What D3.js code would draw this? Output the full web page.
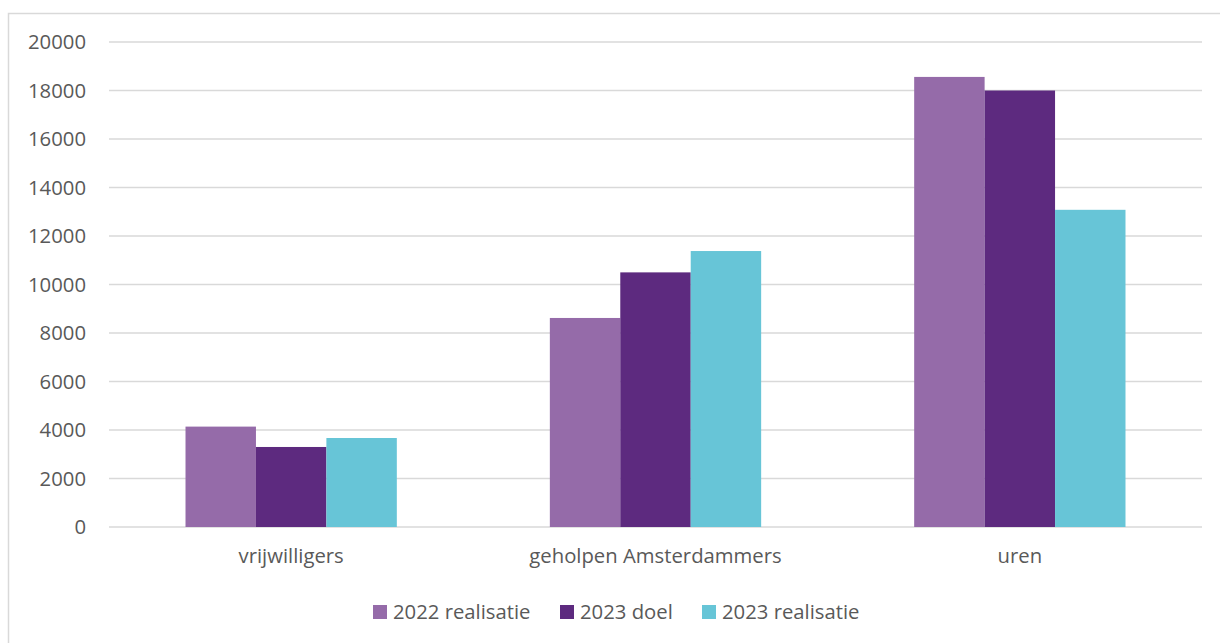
<!DOCTYPE html>
<html><head><meta charset="utf-8">
<script src="https://cdn.jsdelivr.net/npm/d3@7"></script>
<style>body{margin:0;background:#fff}svg{display:block}</style>
</head><body><svg id="c" width="1220" height="643"></svg>
<script>
const categories = ["vrijwilligers", "geholpen Amsterdammers", "uren"];
const seriesNames = ["2022 realisatie", "2023 doel", "2023 realisatie"];
const s2022 = [4140, 8620, 18560];
const s2023doel = [3300, 10500, 18000];
const s2023real = [3670, 11380, 13080];
const yTicks = [0, 2000, 4000, 6000, 8000, 10000, 12000, 14000, 16000, 18000, 20000];
const colors = ["#956BA9", "#5D2A7F", "#67C5D7"];

(function () {
const series = [s2022, s2023doel, s2023real];
const svg = d3.select("#c");
const font = "'Open Sans', sans-serif";
const textColor = "#595959";
const fs = 20.3;

svg.append("path").attr("d", "M8.5,700 V13.5 H1230").attr("fill", "none").attr("stroke", "#d9d9d9").attr("stroke-width", 1.5);

const pl = 109, pr = 1202, pt = 42, pb = 527;
const x = d3.scaleBand().domain(categories).range([pl, pr]).paddingInner(0.42).paddingOuter(0.21);
const xs = d3.scaleBand().domain(seriesNames).range([0, x.bandwidth()]);
const y = d3.scaleLinear().domain([0, 20000]).range([pb, pt]);

svg.append("g").selectAll("line").data(yTicks).join("line")
  .attr("x1", pl).attr("x2", pr)
  .attr("y1", d => y(d)).attr("y2", d => y(d))
  .attr("stroke", "#d9d9d9").attr("stroke-width", 1.5);

const yAxis = d3.axisLeft(y).tickValues(yTicks).tickSize(0).tickPadding(0).tickFormat(d3.format("d"));
const ya = svg.append("g").attr("transform", `translate(86,0)`).call(yAxis);
ya.select(".domain").remove();
ya.selectAll("text").attr("font-family", font).attr("font-size", fs).attr("fill", textColor);

const g = svg.append("g").selectAll("g").data(categories).join("g")
  .attr("transform", d => `translate(${x(d)},0)`);
g.selectAll("rect").data((c, i) => seriesNames.map((s, j) => ({s, v: series[j][i], j})))
  .join("rect")
  .attr("x", d => xs(d.s)).attr("width", xs.bandwidth())
  .attr("y", d => y(d.v)).attr("height", d => y(0) - y(d.v))
  .attr("fill", d => colors[d.j]);

const xAxis = d3.axisBottom(x).tickSize(0).tickPadding(0);
const xa = svg.append("g").attr("transform", `translate(0,${pb + 22})`).call(xAxis);
xa.select(".domain").remove();
xa.selectAll("text").attr("font-family", font).attr("font-size", fs).attr("fill", textColor);

const legendX = [373, 560, 702];
const lg = svg.append("g").selectAll("g").data(seriesNames).join("g")
  .attr("transform", (d, i) => `translate(${legendX[i]},605)`);
lg.append("rect").attr("width", 14).attr("height", 14).attr("fill", (d, i) => colors[i]);
lg.append("text").attr("x", 20).attr("y", 7).attr("dy", "0.35em")
  .attr("font-family", font).attr("font-size", fs).attr("fill", textColor).text(d => d);
})();
</script></body></html>
